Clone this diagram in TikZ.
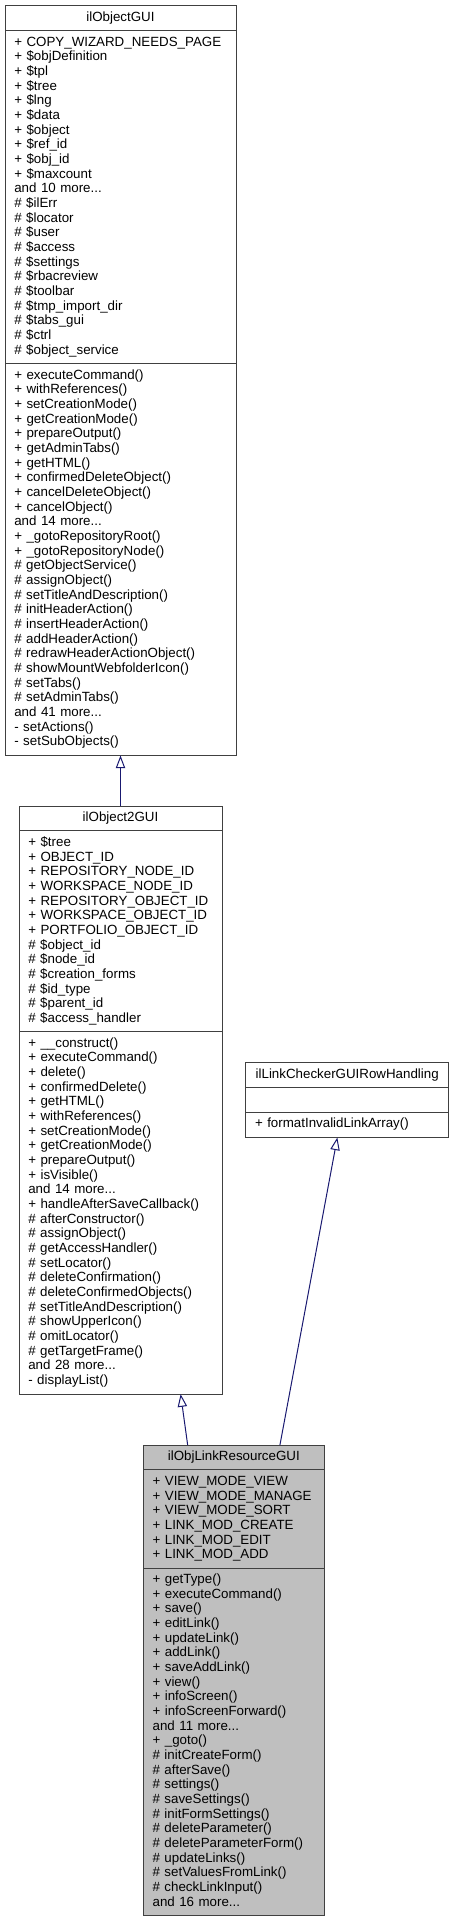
\documentclass[tikz,border=0pt]{standalone}
\usepackage{fontspec}
\setmainfont{Liberation Sans}
\usetikzlibrary{positioning, calc, arrows.meta}

\definecolor{edgeblue}{HTML}{191970}
\definecolor{boxline}{HTML}{404040}
\definecolor{boxfill}{HTML}{BFBFBF}

\begin{document}
\begin{tikzpicture}
  [x=0.75pt, y=-0.75pt,
   cell/.style = {
     rectangle, draw=boxline, line width=0.75pt, outer sep=0pt,
     inner xsep=7pt, inner ysep=3.85pt, font=\fontsize{10}{11}\selectfont,
     execute at begin node=\strut, execute at end node=\strut},
   head/.style = {cell, align=center, anchor=north},
   body/.style = {cell, align=left},
   wide/.style = {text width=159.25pt},
   mid/.style = {text width=138.25pt},
   narrow/.style = {text width=121.75pt},
   this/.style = {fill=boxfill},
   inherit/.style = {draw=edgeblue, line width=0.75pt,
     -{Triangle[open, length=9.5pt, width=7pt]}}
  ]
  \useasboundingbox (0,0) rectangle (454,1923);

  % base class
  \node[head, wide] (objgui) at (120.5,6) {ilObjectGUI};
  \node[body, wide, below=0pt of objgui] (objgui-attr) {
    + COPY\_WIZARD\_NEEDS\_PAGE\\
    + \$objDefinition\\
    + \$tpl\\
    + \$tree\\
    + \$lng\\
    + \$data\\
    + \$object\\
    + \$ref\_id\\
    + \$obj\_id\\
    + \$maxcount\\
    and 10 more...\\
    \# \$ilErr\\
    \# \$locator\\
    \# \$user\\
    \# \$access\\
    \# \$settings\\
    \# \$rbacreview\\
    \# \$toolbar\\
    \# \$tmp\_import\_dir\\
    \# \$tabs\_gui\\
    \# \$ctrl\\
    \# \$object\_service};
  \node[body, wide, below=0pt of objgui-attr] (objgui-ops) {
    + executeCommand()\\
    + withReferences()\\
    + setCreationMode()\\
    + getCreationMode()\\
    + prepareOutput()\\
    + getAdminTabs()\\
    + getHTML()\\
    + confirmedDeleteObject()\\
    + cancelDeleteObject()\\
    + cancelObject()\\
    and 14 more...\\
    + \_gotoRepositoryRoot()\\
    + \_gotoRepositoryNode()\\
    \# getObjectService()\\
    \# assignObject()\\
    \# setTitleAndDescription()\\
    \# initHeaderAction()\\
    \# insertHeaderAction()\\
    \# addHeaderAction()\\
    \# redrawHeaderActionObject()\\
    \# showMountWebfolderIcon()\\
    \# setTabs()\\
    \# setAdminTabs()\\
    and 41 more...\\
    - setActions()\\
    - setSubObjects()};

  \node[head, mid] (obj2gui) at (120.5,806) {ilObject2GUI};
  \node[body, mid, below=0pt of obj2gui] (obj2gui-attr) {
    + \$tree\\
    + OBJECT\_ID\\
    + REPOSITORY\_NODE\_ID\\
    + WORKSPACE\_NODE\_ID\\
    + REPOSITORY\_OBJECT\_ID\\
    + WORKSPACE\_OBJECT\_ID\\
    + PORTFOLIO\_OBJECT\_ID\\
    \# \$object\_id\\
    \# \$node\_id\\
    \# \$creation\_forms\\
    \# \$id\_type\\
    \# \$parent\_id\\
    \# \$access\_handler};
  \node[body, mid, below=0pt of obj2gui-attr] (obj2gui-ops) {
    + \_\_construct()\\
    + executeCommand()\\
    + delete()\\
    + confirmedDelete()\\
    + getHTML()\\
    + withReferences()\\
    + setCreationMode()\\
    + getCreationMode()\\
    + prepareOutput()\\
    + isVisible()\\
    and 14 more...\\
    + handleAfterSaveCallback()\\
    \# afterConstructor()\\
    \# assignObject()\\
    \# getAccessHandler()\\
    \# setLocator()\\
    \# deleteConfirmation()\\
    \# deleteConfirmedObjects()\\
    \# setTitleAndDescription()\\
    \# showUpperIcon()\\
    \# omitLocator()\\
    \# getTargetFrame()\\
    and 28 more...\\
    - displayList()};

  \node[head, mid] (linkchk) at (347.2,1062.7) {ilLinkCheckerGUIRowHandling};
  \node[body, mid, below=0pt of linkchk] (linkchk-attr) {};
  \node[body, mid, below=0pt of linkchk-attr] (linkchk-ops) {+ formatInvalidLinkArray()};

  % the class itself
  \node[head, narrow, this] (linkres) at (233.8,1445) {ilObjLinkResourceGUI};
  \node[body, narrow, this, below=0pt of linkres] (linkres-attr) {
    + VIEW\_MODE\_VIEW\\
    + VIEW\_MODE\_MANAGE\\
    + VIEW\_MODE\_SORT\\
    + LINK\_MOD\_CREATE\\
    + LINK\_MOD\_EDIT\\
    + LINK\_MOD\_ADD};
  \node[body, narrow, this, below=0pt of linkres-attr] (linkres-ops) {
    + getType()\\
    + executeCommand()\\
    + save()\\
    + editLink()\\
    + updateLink()\\
    + addLink()\\
    + saveAddLink()\\
    + view()\\
    + infoScreen()\\
    + infoScreenForward()\\
    and 11 more...\\
    + \_goto()\\
    \# initCreateForm()\\
    \# afterSave()\\
    \# settings()\\
    \# saveSettings()\\
    \# initFormSettings()\\
    \# deleteParameter()\\
    \# deleteParameterForm()\\
    \# updateLinks()\\
    \# setValuesFromLink()\\
    \# checkLinkInput()\\
    and 16 more...};

  \draw[inherit] (obj2gui.north) -- (objgui-ops.south);
  \draw[inherit] ([xshift=-34.6pt]linkres.north) -- ([xshift=45.1pt]obj2gui-ops.south);
  \draw[inherit] ([xshift=34.6pt]linkres.north) -- ([xshift=-7.4pt]linkchk-ops.south);
\end{tikzpicture}
\end{document}
